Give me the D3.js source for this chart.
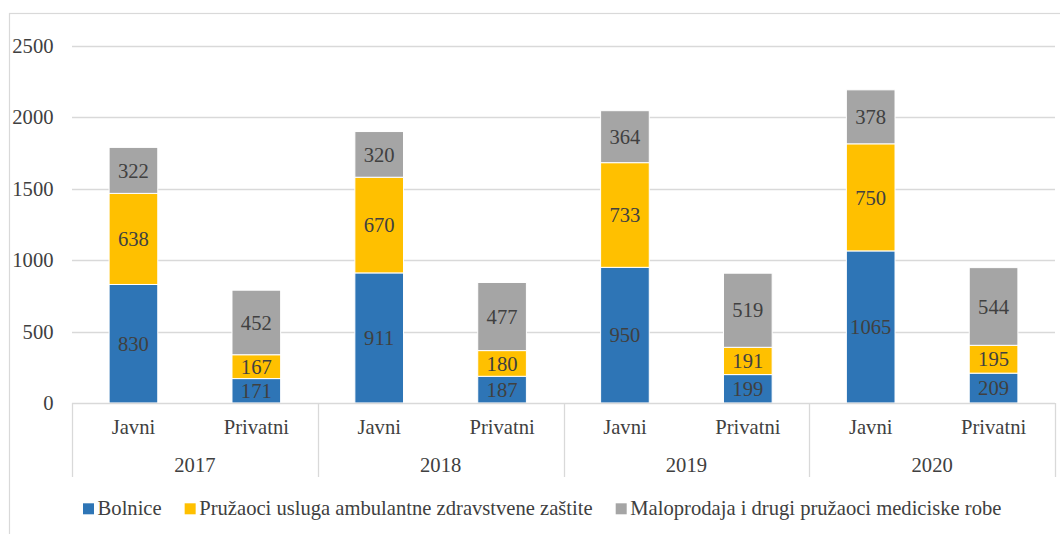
<!DOCTYPE html>
<html>
<head>
<meta charset="utf-8">
<script src="https://cdn.jsdelivr.net/npm/d3@7"></script>
</head>
<body style="margin:0;padding:0;background:#fff">
<svg id="chart" width="1060" height="534" style="display:block"></svg>
<script>
const years = ["2017", "2018", "2019", "2020"];
const sectors = ["Javni", "Privatni"];
const seriesNames = ["Bolnice", "Pružaoci usluga ambulantne zdravstvene zaštite", "Maloprodaja i drugi pružaoci mediciske robe"];
const bolnice = [830, 171, 911, 187, 950, 199, 1065, 209];
const pruzaoci = [638, 167, 670, 180, 733, 191, 750, 195];
const maloprodaja = [322, 452, 320, 477, 364, 519, 378, 544];
const yTicks = [0, 500, 1000, 1500, 2000, 2500];
const colors = ["#2E75B6", "#FFC000", "#A5A5A5"];

const FONT = '"Liberation Serif"';
const FS = 20.6;
const svg = d3.select("#chart");
const pLeft = 72, pRight = 1055, pTop = 46, pBottom = 403;

// outer border
svg.append("rect").attr("x", 9.5).attr("y", 13.5).attr("width", 1200).attr("height", 700)
  .attr("fill", "none").attr("stroke", "#d9d9d9").attr("stroke-width", 1.2);

const cats = [];
years.forEach(yr => sectors.forEach(s => cats.push(yr + "|" + s)));

const x = d3.scaleBand().domain(cats).range([pLeft, pRight]).paddingInner(0.604).paddingOuter(0.302);
const y = d3.scaleLinear().domain([0, 2500]).range([pBottom, pTop]);

// gridlines
svg.append("g").selectAll("line").data(yTicks.filter(t => t > 0)).join("line")
  .attr("x1", pLeft).attr("x2", pRight)
  .attr("y1", d => Math.round(y(d)) + 0.5).attr("y2", d => Math.round(y(d)) + 0.5)
  .attr("stroke", "#d9d9d9").attr("stroke-width", 1.3);

// y axis labels
const yAxis = d3.axisLeft(y).tickValues(yTicks).tickSize(0).tickPadding(0).tickFormat(d3.format("d"));
const yg = svg.append("g").attr("transform", `translate(53.5,0)`).call(yAxis);
yg.select(".domain").remove();
yg.attr("font-family", null).attr("font-size", null);
yg.selectAll("text").attr("font-size", FS);

// stacked data
const rows = cats.map((c, i) => ({ cat: c, s0: bolnice[i], s1: pruzaoci[i], s2: maloprodaja[i] }));
const stacked = d3.stack().keys(["s0", "s1", "s2"])(rows);

const layers = svg.append("g").selectAll("g").data(stacked).join("g")
  .attr("fill", (d, i) => colors[i]);
layers.selectAll("rect").data(d => d).join("rect")
  .attr("x", d => x(d.data.cat))
  .attr("width", x.bandwidth())
  .attr("y", d => y(d[1]))
  .attr("height", d => y(d[0]) - y(d[1]))
  .attr("stroke", "#fff").attr("stroke-width", 1);

// data labels
svg.append("g").selectAll("g").data(stacked).join("g")
  .selectAll("text").data(d => d).join("text")
  .attr("x", d => x(d.data.cat) + x.bandwidth() / 2)
  .attr("y", d => (y(d[0]) + y(d[1])) / 2)
  .attr("dy", "0.35em")
  .attr("text-anchor", "middle")
  .attr("font-size", FS)
  .text(d => d[1] - d[0]);

// x axis line
svg.append("line").attr("x1", pLeft).attr("x2", pRight).attr("y1", pBottom + 0.5).attr("y2", pBottom + 0.5)
  .attr("stroke", "#d9d9d9").attr("stroke-width", 1.3);

// group separators
const groupW = (pRight - pLeft) / years.length;
const seps = d3.range(years.length + 1).map(i => pLeft + i * groupW);
svg.append("g").selectAll("line").data(seps).join("line")
  .attr("x1", d => Math.round(d) + 0.5).attr("x2", d => Math.round(d) + 0.5)
  .attr("y1", pBottom).attr("y2", 477)
  .attr("stroke", "#d9d9d9").attr("stroke-width", 1.3);

// sector labels
svg.append("g").selectAll("text").data(cats).join("text")
  .attr("x", d => x(d) + x.bandwidth() / 2)
  .attr("y", 434)
  .attr("text-anchor", "middle")
  .attr("font-size", FS)
  .text(d => d.split("|")[1]);

// year labels
svg.append("g").selectAll("text").data(years).join("text")
  .attr("x", (d, i) => pLeft + (i + 0.5) * groupW)
  .attr("y", 471.5)
  .attr("text-anchor", "middle")
  .attr("font-size", FS)
  .text(d => d);

// apply font before measuring legend
svg.selectAll("text").style("font-family", FONT).attr("fill", "#404040");

// legend
const legend = svg.append("g");
let lx = 83;
seriesNames.forEach((name, i) => {
  legend.append("rect").attr("x", lx).attr("y", 503.3).attr("width", 11).attr("height", 11).attr("fill", colors[i]);
  const t = legend.append("text").attr("x", lx + 14.6).attr("y", 515).attr("font-size", FS)
    .style("font-family", FONT).attr("fill", "#404040").text(name);
  const w = t.node().getComputedTextLength();
  lx += 14.6 + w + 23;
});
</script>
</body>
</html>
